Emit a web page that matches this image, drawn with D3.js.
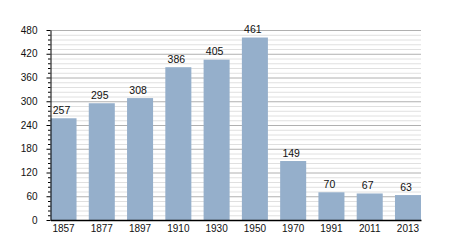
<!DOCTYPE html>
<html>
<head>
<meta charset="utf-8">
<script src="https://cdn.jsdelivr.net/npm/d3@7"></script>
<style>
  html, body { margin: 0; padding: 0; background: #fff; }
  svg text { font-family: "Liberation Sans", Arial, sans-serif; fill: #111; }
</style>
</head>
<body>
<svg id="chart" width="450" height="250"></svg>
<script>
// population by census year
const years = ['1857', '1877', '1897', '1910', '1930', '1950', '1970', '1991', '2011', '2013'];
const population = [257, 295, 308, 386, 405, 461, 149, 70, 67, 63];
const majorTicks = [0, 60, 120, 180, 240, 300, 360, 420, 480];
const minorTicks = d3.range(0, 481, 12).filter(v => v % 60 !== 0);

const margin = { top: 30, right: 29, bottom: 30, left: 50.5 };
const svg = d3.select('#chart');
const width = +svg.attr('width') - margin.left - margin.right;
const height = +svg.attr('height') - margin.top - margin.bottom;

const g = svg.append('g')
  .attr('transform', `translate(${margin.left},${margin.top})`);

const x = d3.scaleBand()
  .domain(years)
  .range([0, width])
  .paddingInner(0.32)
  .paddingOuter(0);

const y = d3.scaleLinear()
  .domain([0, 480])
  .range([height, 0]);

// grid: minor first, then major on top
g.append('g')
  .attr('class', 'grid minor')
  .call(d3.axisLeft(y).tickValues(minorTicks).tickSize(-width).tickFormat(''))
  .call(s => s.select('.domain').remove())
  .call(s => s.selectAll('.tick line').attr('stroke', '#e0e0e0'));

g.append('g')
  .attr('class', 'grid major')
  .call(d3.axisLeft(y).tickValues(majorTicks).tickSize(-width).tickFormat(''))
  .call(s => s.select('.domain').remove())
  .call(s => s.selectAll('.tick line').attr('stroke', '#b0b0b0'));

// bars
g.append('g')
  .selectAll('rect')
  .data(population)
  .enter()
  .append('rect')
    .attr('x', (d, i) => x(years[i]))
    .attr('y', d => y(d))
    .attr('width', x.bandwidth())
    .attr('height', d => y(0) - y(d))
    .attr('fill', '#95afcb');

// value labels
g.append('g')
  .selectAll('text')
  .data(population)
  .enter()
  .append('text')
    .attr('x', (d, i) => x(years[i]) + x.bandwidth() / 2 - 2)
    .attr('y', d => y(d) - 4.5)
    .attr('text-anchor', 'middle')
    .attr('font-size', '10.5px')
    .text(d => d);

// y axis with minor ticks
g.append('g')
  .attr('class', 'y minor-ticks')
  .call(d3.axisLeft(y).tickValues(minorTicks).tickSize(2.5).tickFormat(''))
  .call(s => s.select('.domain').remove())
  .call(s => s.selectAll('.tick line').attr('stroke', '#000'));

g.append('g')
  .attr('class', 'y axis')
  .call(d3.axisLeft(y).tickValues(majorTicks).tickSize(4).tickPadding(9).tickSizeOuter(0))
  .call(s => s.select('.domain').attr('stroke', '#000'))
  .call(s => s.selectAll('.tick line').attr('stroke', '#000'))
  .call(s => s.selectAll('.tick text').attr('font-size', '10px').attr('font-family', '"Liberation Sans", Arial, sans-serif'));

// x axis
g.append('g')
  .attr('class', 'x axis')
  .attr('transform', `translate(0,${height})`)
  .call(d3.axisBottom(x).tickSize(0).tickPadding(4.5).tickSizeOuter(0))
  .call(s => s.select('.domain').attr('stroke', '#000').attr('stroke-width', 1.3))
  .call(s => s.selectAll('.tick text').attr('font-size', '10px').attr('font-family', '"Liberation Sans", Arial, sans-serif'));
</script>
</body>
</html>
